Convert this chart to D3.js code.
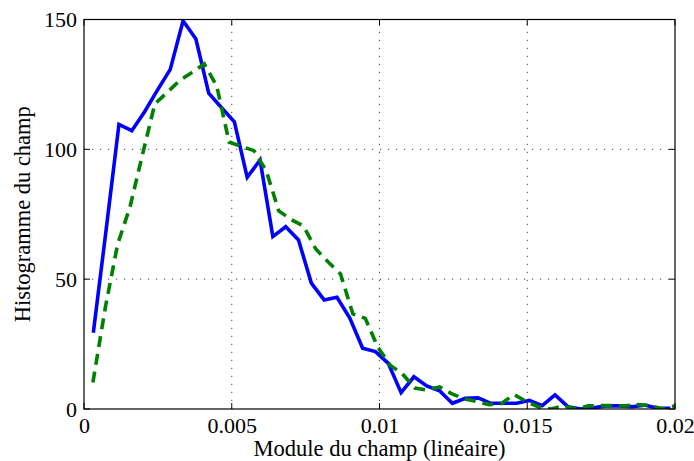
<!DOCTYPE html>
<html>
<head>
<meta charset="utf-8">
<script src="https://cdn.jsdelivr.net/npm/d3@7"></script>
<style>
  html, body { margin: 0; padding: 0; background: #fff; }
  svg { display: block; font-family: "Liberation Serif", "DejaVu Serif", serif; }
</style>
</head>
<body>
<svg id="chart" width="694" height="461"></svg>
<script>
// Histogram of the field magnitude: measured (solid blue) and reference (dashed green)
const xTicks = [0, 0.005, 0.01, 0.015, 0.02];
const xTickLabels = ["0", "0.005", "0.01", "0.015", "0.02"];
const yTicks = [0, 50, 100, 150];
const yTickLabels = ["0", "50", "100", "150"];

// bin centres of the solid curve
const binsA = [
  0.000315, 0.000749, 0.001183, 0.001617, 0.002051, 0.002485, 0.002919, 0.003353,
  0.003787, 0.004221, 0.004655, 0.005089, 0.005523, 0.005957, 0.006391, 0.006825,
  0.007259, 0.007693, 0.008127, 0.008561, 0.008995, 0.009429, 0.009863, 0.010297,
  0.010731, 0.011165, 0.011599, 0.012033, 0.012467, 0.012901, 0.013335, 0.013769,
  0.014203, 0.014637, 0.015071, 0.015505, 0.015939, 0.016373, 0.016807, 0.017241,
  0.017675, 0.018109, 0.018543, 0.018977, 0.019411, 0.019845
];
const countsA = [
  29.4, 69, 109.6, 107.2, 114.5, 122.8, 130.8, 149.5,
  142.5, 121.6, 116, 110.6, 89.2, 95.9, 66.4, 70.2,
  65.1, 48.5, 42, 43, 35, 23.4, 22.1, 17.6,
  6.3, 12.4, 8.9, 7.0, 2.2, 4.1, 4.3, 2.2,
  2.2, 2.2, 3.3, 1.3, 5.4, 0.9, 0, 0.5,
  1.2, 1.2, 0.9, 1.5, 0.3, 0.3
];

// bin centres of the dashed curve
const binsB = [
  0.000301, 0.000720, 0.001140, 0.001556, 0.001976, 0.002396, 0.002815, 0.003235,
  0.003651, 0.004071, 0.004491, 0.004910, 0.005330, 0.005750, 0.006169, 0.006589,
  0.007005, 0.007425, 0.007844, 0.008264, 0.008680, 0.009100, 0.009520, 0.009939,
  0.010359, 0.010779, 0.011195, 0.011614, 0.012034, 0.012453, 0.012873, 0.013293,
  0.013709, 0.014129, 0.014548, 0.014968, 0.015388, 0.015804, 0.016223, 0.016643,
  0.017063, 0.017482, 0.017902, 0.018318, 0.018738, 0.019157, 0.019577, 0.019997
];
const countsB = [
  10.2, 39, 63.5, 77.8, 97.8, 117.5, 121.9, 126.5,
  129.6, 132.9, 124.4, 102.8, 101.1, 99.5, 91.7, 76.3,
  73, 70.5, 61.6, 56.6, 52, 36.6, 34.9, 23.9,
  16.9, 13.5, 8.1, 7.3, 8.5, 5.8, 3.9, 2.9,
  1.7, 2.1, 5.6, 2.9, 0.8, 0, 1.2, 0,
  1.2, 1.3, 1.3, 1.2, 1.7, 1.3, 0, 1.2
];

const svg = d3.select("#chart");
const margin = { left: 84, right: 19, top: 19.5, bottom: 52 };
const W = 694, H = 461;
const x = d3.scaleLinear().domain([0, 0.02]).range([margin.left, W - margin.right]);
const y = d3.scaleLinear().domain([0, 150]).range([H - margin.bottom, margin.top]);
const x0 = x.range()[0], x1 = x.range()[1];
const y0 = y.range()[0], y1 = y.range()[1];

// dotted grid
const grid = svg.append("g").attr("stroke", "#444").attr("stroke-width", 1)
  .attr("stroke-dasharray", "1.2,6.8").attr("fill", "none");
xTicks.filter(t => t > 0 && t < 0.02).forEach(t => {
  grid.append("line").attr("x1", x(t)).attr("x2", x(t)).attr("y1", y0).attr("y2", y1);
});
yTicks.filter(t => t > 0 && t < 150).forEach(t => {
  grid.append("line").attr("x1", x0).attr("x2", x1).attr("y1", y(t)).attr("y2", y(t));
});

// curves
svg.append("clipPath").attr("id", "plotclip").append("rect")
  .attr("x", x0).attr("y", y1).attr("width", x1 - x0).attr("height", y0 - y1);

const line = d3.line().x(d => x(d[0])).y(d => y(d[1]));
const plot = svg.append("g").attr("clip-path", "url(#plotclip)");
plot.append("path")
  .datum(binsA.map((b, i) => [b, countsA[i]]))
  .attr("d", line).attr("fill", "none").attr("stroke", "#0000ff")
  .attr("stroke-width", 3.6).attr("stroke-linejoin", "miter");
plot.append("path")
  .datum(binsB.map((b, i) => [b, countsB[i]]))
  .attr("d", line).attr("fill", "none").attr("stroke", "#008000")
  .attr("stroke-width", 3.6).attr("stroke-dasharray", "11,7");

// axes: ticks inside on all four sides
const tickLen = 6;
const axBottom = d3.axisBottom(x).tickValues(xTicks).tickSize(0).tickFormat((d, i) => xTickLabels[i]).tickPadding(8);
const axLeft = d3.axisLeft(y).tickValues(yTicks).tickSize(0).tickFormat((d, i) => yTickLabels[i]).tickPadding(7);

const gb = svg.append("g").attr("transform", `translate(0,${y0})`).call(axBottom);
const gl = svg.append("g").attr("transform", `translate(${x0},0)`).call(axLeft);
[gb, gl].forEach(g => {
  g.select(".domain").remove();
  g.selectAll("text").attr("font-size", 22).attr("fill", "#000")
    .attr("font-family", "Liberation Serif, serif");
});
gb.selectAll("text").attr("dy", "0.71em");

const tk = svg.append("g").attr("stroke", "#000").attr("stroke-width", 1);
xTicks.forEach(t => {
  tk.append("line").attr("x1", x(t)).attr("x2", x(t)).attr("y1", y0).attr("y2", y0 - tickLen);
  tk.append("line").attr("x1", x(t)).attr("x2", x(t)).attr("y1", y1).attr("y2", y1 + tickLen);
});
yTicks.forEach(t => {
  tk.append("line").attr("x1", x0).attr("x2", x0 + tickLen).attr("y1", y(t)).attr("y2", y(t));
  tk.append("line").attr("x1", x1).attr("x2", x1 - tickLen).attr("y1", y(t)).attr("y2", y(t));
});

svg.append("rect").attr("x", x0).attr("y", y1).attr("width", x1 - x0).attr("height", y0 - y1)
  .attr("fill", "none").attr("stroke", "#000").attr("stroke-width", 1.2);

// axis titles
svg.append("text").attr("x", (x0 + x1) / 2).attr("y", 456).attr("text-anchor", "middle")
  .attr("font-size", 22.5).text("Module du champ (linéaire)");
svg.append("text").attr("transform", `translate(30,${(y0 + y1) / 2}) rotate(-90)`)
  .attr("text-anchor", "middle").attr("font-size", 22.5).text("Histogramme du champ");
</script>
</body>
</html>
